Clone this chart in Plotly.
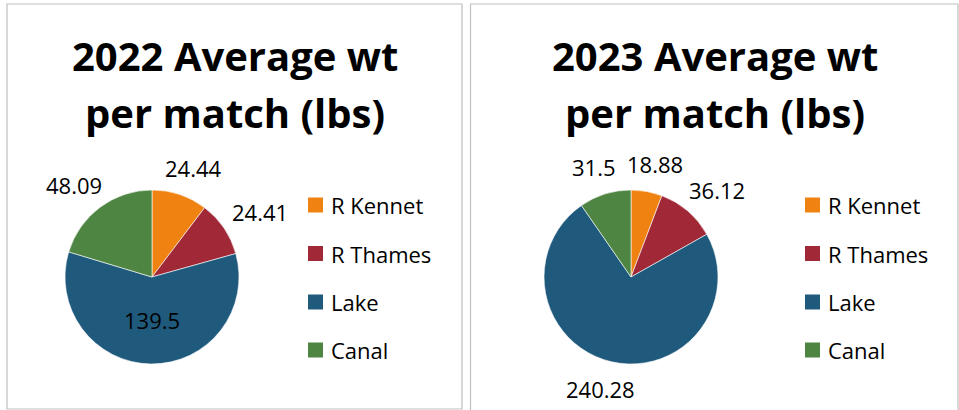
import math
import plotly.graph_objects as go

W, H = 959, 410

categories = ["R Kennet", "R Thames", "Lake", "Canal"]
values_2022 = [24.44, 24.41, 139.5, 48.09]
values_2023 = [18.88, 36.12, 240.28, 31.5]
label_2022 = ["24.44", "24.41", "139.5", "48.09"]
label_2023 = ["18.88", "36.12", "240.28", "31.5"]
title_2022 = ["2022 Average wt", "per match (lbs)"]
title_2023 = ["2023 Average wt", "per match (lbs)"]
colors = ["#EF8210", "#A02837", "#1F5A7D", "#4E8542"]

FONT = "Open Sans"
LABEL_SIZE = 22


def px(x):
    return x / W


def py(y):
    return 1 - y / H


R = 87
panels = [
    dict(vals=values_2022, text=label_2022, title=title_2022, cx=152, cy=277,
         box=(7, 4, 462, 409), tcx=234.5, lx=308,
         inside=[False, False, True, False]),
    dict(vals=values_2023, text=label_2023, title=title_2023, cx=631, cy=277,
         box=(470.5, 4, 958, 412), tcx=714.5, lx=805,
         inside=[False, False, False, False]),
]

fig = go.Figure()
shapes = []
annotations = []
legend_rows = [205, 253.5, 302, 350]


def text_halfwidth(s):
    n_dig = sum(ch.isdigit() for ch in s)
    n_oth = len(s) - n_dig
    return (0.572 * n_dig + 0.27 * n_oth) * LABEL_SIZE / 2


for p in panels:
    fig.add_trace(go.Pie(
        labels=categories, values=p["vals"],
        textinfo="none",
        sort=False, direction="clockwise", rotation=0,
        marker=dict(colors=colors, line=dict(color="white", width=0.6)),
        showlegend=False, hoverinfo="label+value",
        domain=dict(x=[px(p["cx"] - R), px(p["cx"] + R)],
                    y=[py(p["cy"] + R), py(p["cy"] - R)]),
    ))
    # data labels placed from the slice mid-angles
    total = sum(p["vals"])
    cum = 0.0
    for v, t, ins in zip(p["vals"], p["text"], p["inside"]):
        mid = (cum + v / 2) / total * 2 * math.pi
        cum += v
        s, c = math.sin(mid), math.cos(mid)
        if ins:
            lx_, ly_ = p["cx"] + 0.5 * R * s, p["cy"] - 0.5 * R * c
        else:
            hw, hh, g = text_halfwidth(t), 12, 16
            lx_ = p["cx"] + (R + g + hw) * s
            ly_ = p["cy"] - (R + g + hh) * c
        annotations.append(dict(text=t, xref="paper", yref="paper",
                                x=px(lx_), y=py(ly_), xanchor="center",
                                yanchor="middle", showarrow=False,
                                font=dict(family=FONT, size=LABEL_SIZE, color="black")))
    x0, y0, x1, y1 = p["box"]
    shapes.append(dict(type="rect", xref="paper", yref="paper",
                       x0=px(x0), x1=px(x1), y0=py(y1), y1=py(y0),
                       line=dict(color="#BFBFBF", width=1.2), layer="below"))
    for i, t in enumerate(p["title"]):
        annotations.append(dict(text="<b>" + t + "</b>", xref="paper", yref="paper",
                                x=px(p["tcx"]), y=py([55, 112][i]), xanchor="center",
                                yanchor="middle", showarrow=False,
                                font=dict(family=FONT, size=40, color="black")))
    for i, cat in enumerate(categories):
        yc = legend_rows[i]
        shapes.append(dict(type="rect", xref="paper", yref="paper",
                           x0=px(p["lx"]), x1=px(p["lx"] + 15),
                           y0=py(yc + 7.5), y1=py(yc - 7.5),
                           fillcolor=colors[i], line=dict(width=0)))
        annotations.append(dict(text=cat, xref="paper", yref="paper",
                                x=px(p["lx"] + 21), y=py(yc), xanchor="left",
                                yanchor="middle", showarrow=False,
                                font=dict(family=FONT, size=LABEL_SIZE, color="black")))

fig.update_layout(
    width=W, height=H, margin=dict(l=0, r=0, t=0, b=0),
    paper_bgcolor="white", plot_bgcolor="white",
    shapes=shapes, annotations=annotations, showlegend=False,
)

fig.write_html("out.html", config={"displayModeBar": False},
               post_script="document.body.style.margin='0px';")
